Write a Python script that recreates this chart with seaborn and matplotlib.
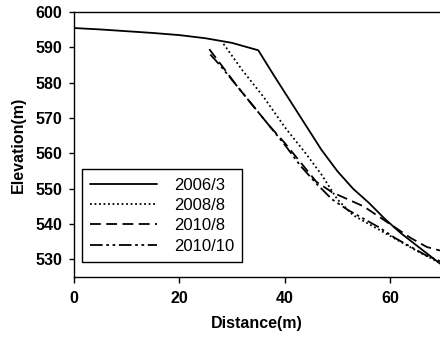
import matplotlib
matplotlib.use("Agg")
import matplotlib.pyplot as plt
import seaborn as sns
import pandas as pd

# profile data
x_2006_3 = [0, 5, 10, 15, 20, 25, 30, 35, 38, 41, 44, 47, 50, 53, 56, 59, 62, 65, 69.5]
y_2006_3 = [595.5, 595.1, 594.6, 594.1, 593.5, 592.6, 591.3, 589.2, 582, 575, 568, 561,
            555, 550, 546, 541.5, 537.5, 534, 528.8]

x_2008_8 = [28.4, 32, 36, 40, 44, 47, 50, 53, 56, 59, 62, 65, 69.5]
y_2008_8 = [591, 583.5, 576, 567.5, 560, 554, 547, 542.5, 540, 537.5, 535, 532.5, 529]

x_2010_8 = [25.7, 28, 31, 34, 37, 40, 43, 46, 49, 52, 55, 58, 61, 64, 67, 69.5]
y_2010_8 = [589.5, 585, 579, 573.5, 568, 563, 557.5, 552, 549, 547, 545, 542, 539, 536,
            533.5, 532.5]

x_2010_10 = [25.9, 28, 31, 34, 37, 40, 43, 46, 49, 52, 55, 58, 61, 64, 67, 69.5]
y_2010_10 = [588, 584.5, 579, 573.5, 568, 562.5, 556.5, 551.5, 547, 544, 541.5, 539, 536,
             533.5, 531, 529.5]

labels = ["2006/3", "2008/8", "2010/8", "2010/10"]

sns.set_style("ticks")
plt.rcParams['font.family'] = ['Liberation Sans', 'DejaVu Sans']
plt.rcParams['text.color'] = 'black'
plt.rcParams['axes.labelcolor'] = 'black'

fig = plt.figure(figsize=(4.4, 3.37), dpi=100)
ax = fig.add_axes([0.168, 0.178, 0.832, 0.786])

series = [
    (x_2006_3, y_2006_3, "-"),
    (x_2008_8, y_2008_8, (0, (1, 1.5))),
    (x_2010_8, y_2010_8, (0, (6, 3))),
    (x_2010_10, y_2010_10, (0, (7, 2, 1.5, 2, 1.5, 2))),
]
for (xs, ys, ls), lab in zip(series, labels):
    df = pd.DataFrame({"Distance": xs, "Elevation": ys})
    sns.lineplot(data=df, x="Distance", y="Elevation", ax=ax, color="black",
                 linestyle=ls, linewidth=1.3, label=lab)

ax.set_xlim(0, 69.5)
ax.set_ylim(525, 600)
ax.set_xticks([0, 20, 40, 60])
ax.set_yticks([530, 540, 550, 560, 570, 580, 590, 600])
for lbl in ax.get_xticklabels() + ax.get_yticklabels():
    lbl.set_fontweight("bold")
    lbl.set_fontsize(11.5)
ax.tick_params(axis="x", direction="out", length=4, width=1, colors="black", pad=6)
ax.tick_params(axis="y", direction="out", length=3.5, width=1, colors="black", pad=5)

for s in ["left", "bottom", "top"]:
    ax.spines[s].set_color("black")
    ax.spines[s].set_linewidth(1)
ax.spines["right"].set_visible(False)

ax.set_xlabel("Distance(m)", fontsize=11.5, fontweight="bold", labelpad=7)
ax.set_ylabel("Elevation(m)", fontsize=11.5, fontweight="bold", labelpad=7)

leg = ax.legend(loc="lower left", bbox_to_anchor=(0.022, 0.057), borderaxespad=0,
                fancybox=False, edgecolor="black", framealpha=1, fontsize=12,
                handlelength=4.0, labelspacing=0.32, handletextpad=1.0,
                borderpad=0.5)
leg.get_frame().set_linewidth(1)

fig.savefig("out.png", dpi=100)
